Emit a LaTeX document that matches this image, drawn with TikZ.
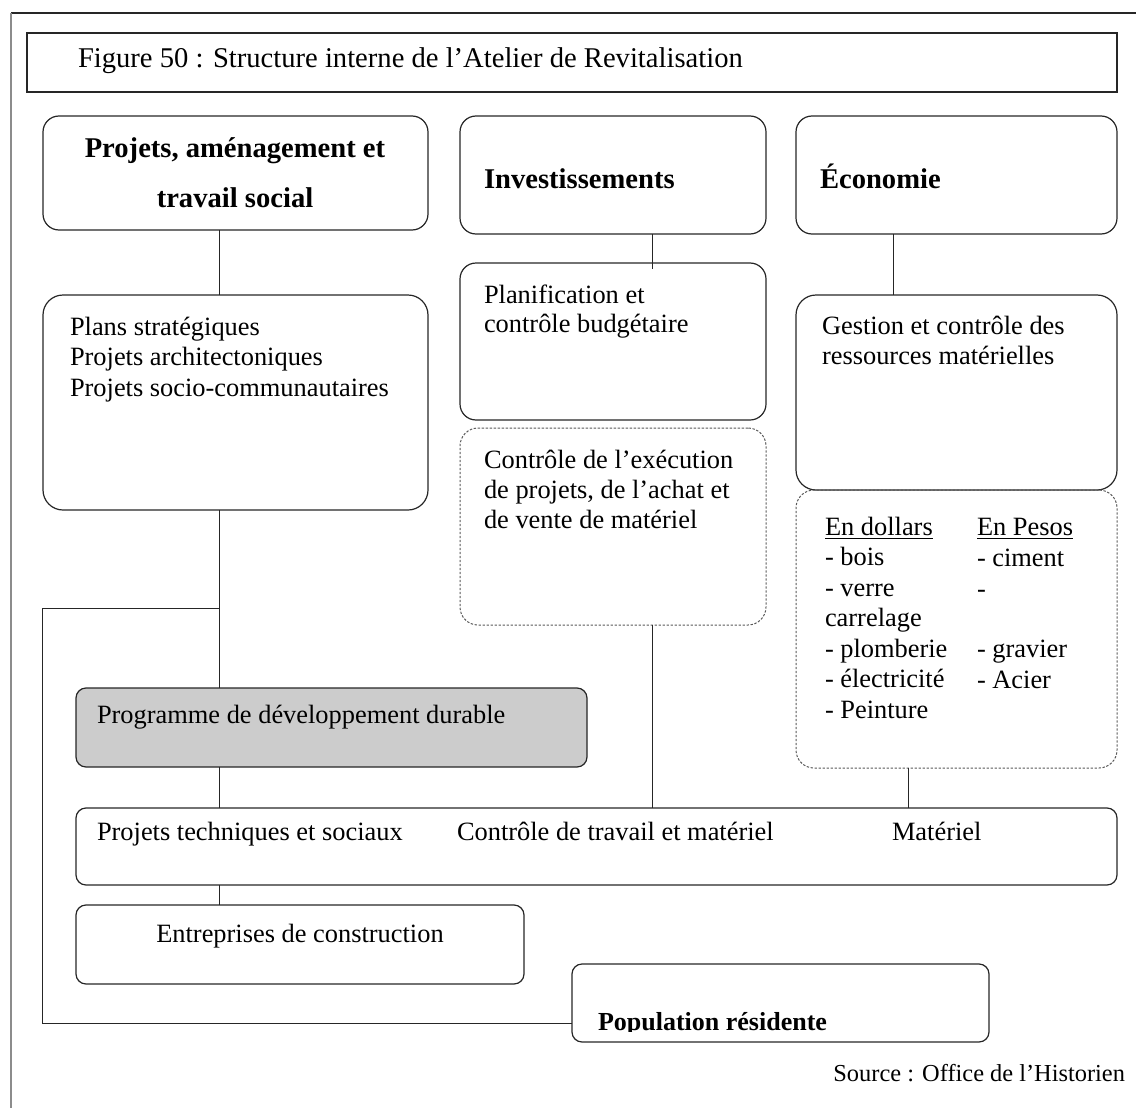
\documentclass[tikz,border=0pt]{standalone}
\usepackage{fontspec}
\setmainfont{Liberation Serif}
\definecolor{progfill}{RGB}{204,204,204}
\newcommand\mkbox[6][box]{\node[#1,minimum width={(#4-#2)*0.5},minimum height={(#5-#3)*0.5}] (#6) at ({(#2+#4)/2},{(#3+#5)/2}) {};}
\begin{document}
\begin{tikzpicture}[x=0.5pt,y=-0.5pt,
  box/.style={draw=black!85,line width=0.6pt,rounded corners=8pt,inner sep=0pt,outer sep=0pt},
  bigbox/.style={box,rounded corners=10pt},
  lowbox/.style={box,rounded corners=5pt},
  titlebox/.style={draw=black!85,line width=0.6pt,sharp corners,inner sep=0pt,outer sep=0pt},
  dotbox/.style={draw=black!65,line width=0.5pt,dash pattern=on 1.2pt off 0.8pt,rounded corners=9pt,inner sep=0pt,outer sep=0pt},
  progbox/.style={lowbox,fill=progfill},
  txt/.style={inner sep=0pt,outer sep=0pt,anchor=base west,font=\fontsize{13.2}{15}\selectfont},
  head/.style={inner sep=0pt,outer sep=0pt,anchor=base,font=\fontsize{14.3}{16}\selectfont\bfseries},
  conn/.style={draw=black!85,line width=0.5pt}]
\useasboundingbox (0,0) rectangle (1136,1108);
% outer frame
\draw[black!85,line width=0.6pt] (11,13) -- (1136,13);
\draw[black!45,line width=0.9pt] (11,13) -- (11,1108);
% boxes
\mkbox[titlebox]{27}{33}{1117}{92}{ttlbox}
\mkbox{43}{116}{428}{230}{boxA}
\mkbox{460}{116}{766}{234}{boxB}
\mkbox{796}{116}{1117}{234}{boxC}
\mkbox[bigbox]{43}{295}{428}{510}{boxA2}
\mkbox{460}{263}{766}{420}{boxB2}
\mkbox[dotbox]{460}{428}{766}{625}{boxB3}
\mkbox[bigbox]{796}{295}{1117}{490}{boxC2}
\mkbox[dotbox]{796}{490}{1117}{768}{boxC3}
\mkbox[progbox]{76}{688}{587}{767}{prog}
\mkbox[lowbox]{76}{808}{1117}{885}{wide}
\mkbox[lowbox]{76}{905}{524}{984}{entr}
\mkbox[lowbox]{572}{964}{989}{1042}{popu}
% texts
\node[txt,font=\fontsize{14.3}{16}\selectfont] (ttl) at (78,68) {Figure 50 : Structure interne de l’Atelier de Revitalisation};
\node[head] (hA1) at (235,157) {Projets, aménagement et};
\node[head] (hA2) at (235,207) {travail social};
\node[head,anchor=base west] (hB) at (484,188) {Investissements};
\node[head,anchor=base west] (hC) at (820,188) {Économie};
\foreach \t [count=\i from 0] in {Plans stratégiques,Projets architectoniques,Projets socio-communautaires}
  \node[txt] (tA\i) at (70,335+30.5*\i) {\t};
\foreach \t [count=\i from 0] in {Planification et,contrôle budgétaire}
  \node[txt] (tB\i) at (484,303+29.5*\i) {\t};
\foreach \t [count=\i from 0] in {Contrôle de l’exécution,{de projets, de l’achat et},de vente de matériel}
  \node[txt] (tBB\i) at (484,468+30*\i) {\t};
\foreach \t [count=\i from 0] in {Gestion et contrôle des,ressources matérielles}
  \node[txt] (tC\i) at (822,334+30*\i) {\t};
\foreach \t [count=\i from 0] in {\underline{En dollars},- bois,- verre,carrelage,- plomberie,- électricité,- Peinture}
  \node[txt] (tD\i) at (825,535+30.5*\i) {\t};
\node[txt] (tP0) at (977,535) {\underline{En Pesos}};
\node[txt] (tP1) at (977,566) {- ciment};
\node[txt] (tP2) at (977,597) {-};
\node[txt] (tP4) at (977,657) {- gravier};
\node[txt] (tP5) at (977,688) {- Acier};
\node[txt] (tprog) at (97,723) {Programme de développement durable};
\node[txt] (tw1) at (97,840) {Projets techniques et sociaux};
\node[txt] (tw2) at (457,840) {Contrôle de travail et matériel};
\node[txt] (tw3) at (892,840) {Matériel};
\node[txt,anchor=base] (tentr) at (300,942) {Entreprises de construction};
\begin{scope}
  \clip (560,950) rectangle (1000,1031);
  \node[txt,font=\fontsize{13}{15}\selectfont\bfseries] (tpop) at (598,1030) {Population résidente};
\end{scope}
\node[txt,anchor=base east,font=\fontsize{12.2}{14}\selectfont] (src) at (1125,1081) {Source : Office de l’Historien};
% connectors
\coordinate (xA) at (219,0);
\coordinate (xB) at (652,0);
\coordinate (xC) at (893,0);
\coordinate (xCC) at (908,0);
\coordinate (xL) at (42,0);
\coordinate (yBr) at (0,608);
\coordinate (yPop) at (0,1023);
\draw[conn] (xA |- boxA.south) -- (xA |- boxA2.north);
\draw[conn] (xA |- boxA2.south) -- (xA |- prog.north);
\draw[conn] (xA |- yBr) -- (xL |- yBr) -- (xL |- yPop) -- (popu.west |- yPop);
\draw[conn] (xA |- prog.south) -- (xA |- wide.north);
\draw[conn] (xA |- wide.south) -- (xA |- entr.north);
\draw[conn] (xB |- boxB.south) -- ([yshift=-3pt]xB |- boxB2.north);
\draw[conn] (xB |- boxB3.south) -- (xB |- wide.north);
\draw[conn] (xC |- boxC.south) -- (xC |- boxC2.north);
\draw[conn] (xCC |- boxC3.south) -- (xCC |- wide.north);
\end{tikzpicture}
\end{document}
